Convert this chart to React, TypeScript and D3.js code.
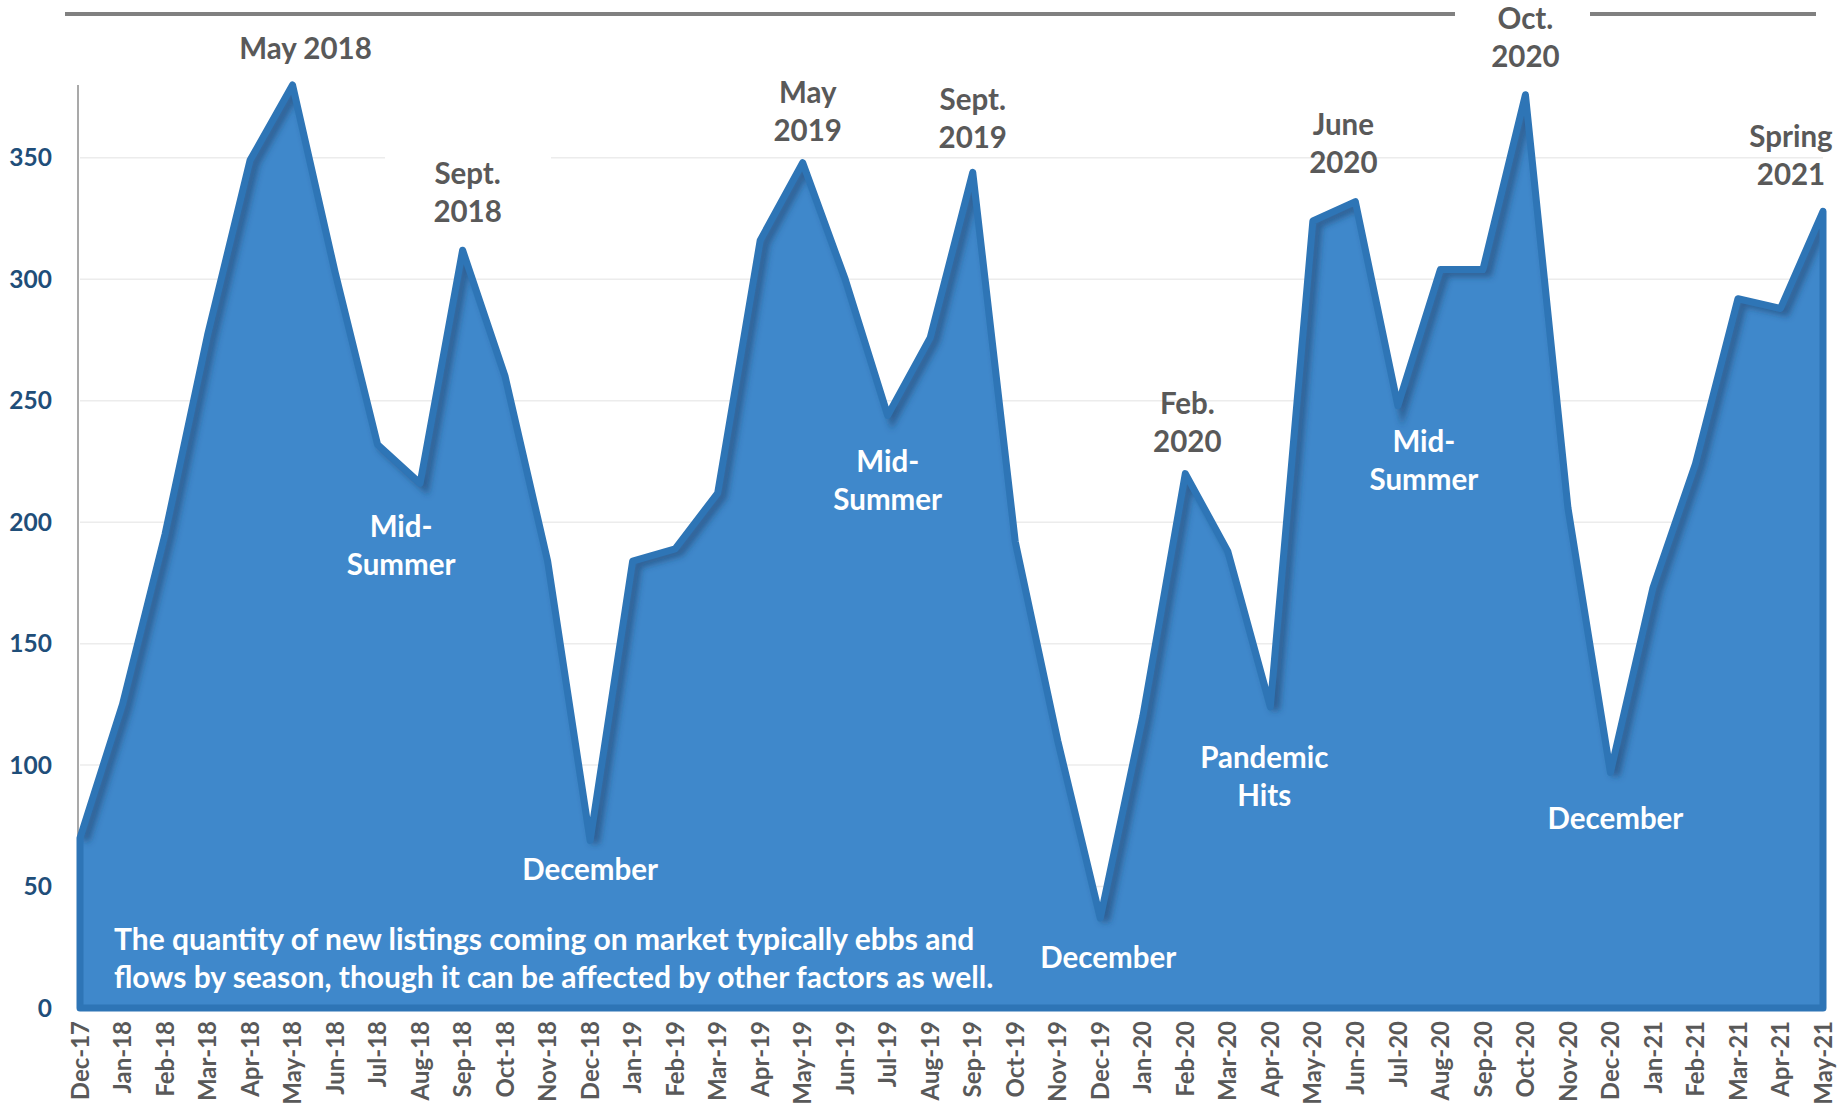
import React from "react";
import * as d3 from "d3";

const months = [
  "Dec-17","Jan-18","Feb-18","Mar-18","Apr-18","May-18","Jun-18","Jul-18","Aug-18","Sep-18","Oct-18","Nov-18",
  "Dec-18","Jan-19","Feb-19","Mar-19","Apr-19","May-19","Jun-19","Jul-19","Aug-19","Sep-19","Oct-19","Nov-19",
  "Dec-19","Jan-20","Feb-20","Mar-20","Apr-20","May-20","Jun-20","Jul-20","Aug-20","Sep-20","Oct-20","Nov-20",
  "Dec-20","Jan-21","Feb-21","Mar-21","Apr-21","May-21",
];
const listings = [
  70, 125, 195, 277, 349, 380, 303, 232, 216, 312, 260, 184,
  69, 184, 189, 212, 316, 348, 300, 244, 276, 344, 192, 110,
  37, 120, 220, 188, 124, 324, 332, 248, 304, 304, 376, 206,
  97, 173, 224, 292, 288, 328,
];
const yTicks = [0, 50, 100, 150, 200, 250, 300, 350];

// annotations: anchor month, text lines, value at which the first line sits
const greyNotes = [
  { m: "May-18", lines: ["May 2018"], v: 395, dx: 13 },
  { m: "Sep-18", lines: ["Sept.", "2018"], v: 343.5, dx: 5 },
  { m: "May-19", lines: ["May", "2019"], v: 377, dx: 5 },
  { m: "Sep-19", lines: ["Sept.", "2019"], v: 374, dx: 0 },
  { m: "Feb-20", lines: ["Feb.", "2020"], v: 249, dx: 2 },
  { m: "Jun-20", lines: ["June", "2020"], v: 363.5, dx: -12 },
  { m: "Oct-20", lines: ["Oct.", "2020"], v: 407.5, dx: 0 },
  { m: "May-21", lines: ["Spring", "2021"], v: 358.6, dx: -32 },
];
const whiteNotes = [
  { m: "Aug-18", lines: ["Mid-", "Summer"], v: 198, dx: -19 },
  { m: "Dec-18", lines: ["December"], v: 57, dx: 0 },
  { m: "Jul-19", lines: ["Mid-", "Summer"], v: 225, dx: 0 },
  { m: "Dec-19", lines: ["December"], v: 20.6, dx: 8 },
  { m: "Apr-20", lines: ["Pandemic", "Hits"], v: 103, dx: -6 },
  { m: "Jul-20", lines: ["Mid-", "Summer"], v: 233, dx: 26 },
  { m: "Dec-20", lines: ["December"], v: 78, dx: 5 },
];
const bodyText = [
  "The quantity of new listings coming on market typically ebbs and",
  "flows by season, though it can be affected by other factors as well.",
];

const W = 1847;
const H = 1110;
const FONT = "Lato, 'Noto Sans', sans-serif";

export default function App() {
  const x = d3.scalePoint<string>().domain(months).range([80, 1823]);
  const y = d3.scaleLinear().domain([0, 380]).range([1008, 85]);
  const data = months.map((m, i) => ({ m, v: listings[i] }));

  const area = d3
    .area<{ m: string; v: number }>()
    .x((d) => x(d.m) as number)
    .y0(y(0))
    .y1((d) => y(d.v));
  const line = d3
    .line<{ m: string; v: number }>()
    .x((d) => x(d.m) as number)
    .y((d) => y(d.v));
  const areaPath = area(data) as string;
  const linePath = line(data) as string;
  const lh = 38;

  const renderNote = (n: any, i: number, fill: string, key: string) => (
    <text key={key + i} textAnchor="middle" fontSize={29.5} fontWeight={700} fill={fill}>
      {n.lines.map((l: string, j: number) => (
        <tspan key={j} x={(x(n.m) as number) + (n.dx || 0)} y={y(n.v) + j * lh} dy="0.35em">
          {l}
        </tspan>
      ))}
    </text>
  );

  return (
    <svg
      width={W}
      height={H}
      style={{ position: "absolute", left: 0, top: 0, background: "#fff" }}
      fontFamily={FONT}
    >
      <defs>
        <clipPath id="areaClip">
          <path d={areaPath} />
        </clipPath>
        <filter id="blur" x="-10%" y="-10%" width="120%" height="120%">
          <feGaussianBlur stdDeviation="3" />
        </filter>
      </defs>

      {/* top rule */}
      <line x1={65} x2={1455} y1={14} y2={14} stroke="#808080" strokeWidth={4} />
      <line x1={1590} x2={1816} y1={14} y2={14} stroke="#808080" strokeWidth={4} />

      {/* gridlines */}
      {yTicks.filter((t) => t > 0).map((t) => (
        <line key={t} x1={80} x2={1823} y1={y(t)} y2={y(t)} stroke="#ececec" strokeWidth={1.5} />
      ))}
      <rect x={385} y={150} width={166} height={60} fill="#fff" />

      {/* y axis */}
      <line x1={78} x2={78} y1={85} y2={1008} stroke="#8c8c8c" strokeWidth={1.5} />
      {yTicks.map((t) => (
        <text
          key={t}
          x={52}
          y={y(t)}
          dy="0.35em"
          textAnchor="end"
          fontSize={24.5}
          fontWeight={700}
          fill="#1f4e79"
        >
          {t}
        </text>
      ))}

      {/* area */}
      <path d={areaPath} fill="#3f88cb" />
      <g clipPath="url(#areaClip)">
        <path
          d={linePath}
          fill="none"
          stroke="#1c3f66"
          strokeOpacity={0.55}
          strokeWidth={9}
          transform="translate(5,3)"
          filter="url(#blur)"
        />
      </g>
      <path d={areaPath} fill="none" stroke="#2e75b6" strokeWidth={7} strokeLinejoin="round" />

      {/* x labels */}
      {months.map((m) => (
        <text
          key={m}
          transform={`translate(${x(m)},1021) rotate(-90)`}
          dy="0.36em"
          textAnchor="end"
          fontSize={24}
          fontWeight={700}
          fill="#595959"
        >
          {m}
        </text>
      ))}

      {greyNotes.map((n, i) => renderNote(n, i, "#595959", "g"))}
      {whiteNotes.map((n, i) => renderNote(n, i, "#ffffff", "w"))}

      {/* body text */}
      {bodyText.map((t, i) => (
        <text
          key={"b" + i}
          x={114}
          y={939 + i * 38}
          dy="0.35em"
          fontSize={30}
          fontWeight={700}
          fill="#ffffff"
        >
          {t}
        </text>
      ))}
    </svg>
  );
}
